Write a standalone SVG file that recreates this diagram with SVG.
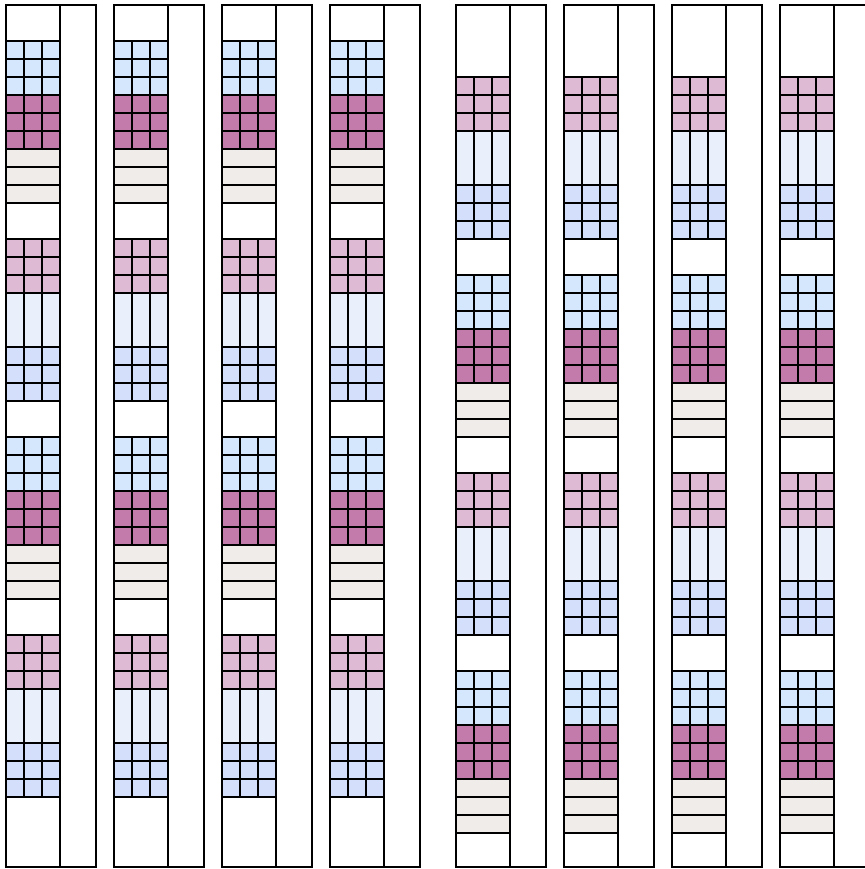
<svg xmlns="http://www.w3.org/2000/svg" xmlns:xlink="http://www.w3.org/1999/xlink" width="865" height="869" viewBox="0 0 865 869">
<style>
rect{stroke:#000;stroke-width:2}
.outer,.div{fill:#fff}
.blue{fill:#d4e7fd}
.purple{fill:#c27bab}
.gray{fill:#f0ecea}
.pink{fill:#dfbad5}
.light{fill:#e9f0fc}
.lav{fill:#d4dffc}
</style>
<defs>
<g id="g9">
<rect x="0" y="0" width="18" height="18"/><rect x="18" y="0" width="18" height="18"/><rect x="36" y="0" width="18" height="18"/>
<rect x="0" y="18" width="18" height="18"/><rect x="18" y="18" width="18" height="18"/><rect x="36" y="18" width="18" height="18"/>
<rect x="0" y="36" width="18" height="18"/><rect x="18" y="36" width="18" height="18"/><rect x="36" y="36" width="18" height="18"/>
</g>
<g id="bars3">
<rect x="0" y="0" width="54" height="18"/><rect x="0" y="18" width="54" height="18"/><rect x="0" y="36" width="54" height="18"/>
</g>
<g id="cols3">
<rect x="0" y="0" width="18" height="54"/><rect x="18" y="0" width="18" height="54"/><rect x="36" y="0" width="18" height="54"/>
</g>
<g id="frame">
<rect class="outer" x="0" y="0" width="90" height="862"/>
<rect class="div" x="54" y="0" width="36" height="862"/>
</g>
<g id="stackA">
<use href="#g9" class="blue" y="0"/>
<use href="#g9" class="purple" y="54"/>
<use href="#bars3" class="gray" y="108"/>
<use href="#g9" class="pink" y="198"/>
<use href="#cols3" class="light" y="252"/>
<use href="#g9" class="lav" y="306"/>
</g>
<g id="colA">
<use href="#frame" y="5"/>
<use href="#stackA" y="41"/>
<use href="#stackA" y="437"/>
</g>
<g id="colB">
<use href="#frame" y="5"/>
<use href="#g9" class="pink" y="77"/>
<use href="#cols3" class="light" y="131"/>
<use href="#g9" class="lav" y="185"/>
<use href="#stackA" y="275"/>
<use href="#g9" class="blue" y="671"/>
<use href="#g9" class="purple" y="725"/>
<use href="#bars3" class="gray" y="779"/>
</g>
</defs>
<g id="col1"><use href="#colA" x="6"/></g>
<g id="col2"><use href="#colA" x="114"/></g>
<g id="col3"><use href="#colA" x="222"/></g>
<g id="col4"><use href="#colA" x="330"/></g>
<g id="col5"><use href="#colB" x="456"/></g>
<g id="col6"><use href="#colB" x="564"/></g>
<g id="col7"><use href="#colB" x="672"/></g>
<g id="col8"><use href="#colB" x="780"/></g>
<g id="connectors"></g>
</svg>
